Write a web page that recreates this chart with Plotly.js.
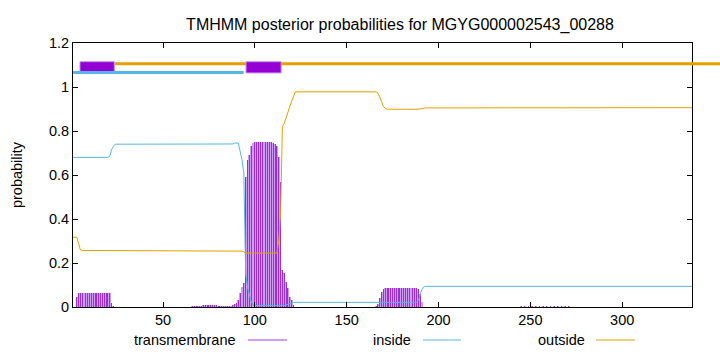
<!DOCTYPE html>
<html>
<head>
<meta charset="utf-8">
<script src="https://cdn.plot.ly/plotly-3.0.1.min.js"></script>
<style>html,body{margin:0;padding:0;background:#fff}#chart{width:720px;height:352px}</style>
</head>
<body>
<div id="chart"></div>
<script>
// ---- data ----
const seqLength = 338;

// transmembrane posterior (per residue, non-zero only)
const tmResidues = [3,4,5,6,7,8,9,10,11,12,13,14,15,16,17,18,19,20,21,22,23,
  66,67,68,69,70,71,72,73,74,75,76,77,78,79,80,81,82,83,84,85,86,87,88,89,90,
  91,92,93,94,95,96,97,98,99,100,101,102,103,104,105,106,107,108,109,110,111,112,113,114,115,116,117,118,119,120,121,
  166,167,168,169,170,171,172,173,174,175,176,177,178,179,180,181,182,183,184,185,186,187,188,189,190,191,
  245,247,249,251,253,255,257,259,261,263,265,267,269,271];
const tmProb = [0.045,0.062,0.064,0.064,0.064,0.064,0.064,0.064,0.064,0.064,0.064,0.064,0.064,0.064,0.064,0.064,0.064,0.064,0.064,0.02,0.006,
  0.003,0.004,0.004,0.005,0.006,0.006,0.007,0.007,0.007,0.007,0.007,0.007,0.007,0.007,0.006,0.006,0.006,0.005,0.005,0.005,0.005,0.006,0.008,0.012,0.02,
  0.03,0.062,0.092,0.11,0.59,0.668,0.69,0.73,0.745,0.748,0.748,0.748,0.748,0.748,0.748,0.748,0.748,0.748,0.748,0.745,0.742,0.73,0.683,0.57,0.168,0.154,0.115,0.086,0.047,0.03,0.01,
  0.005,0.015,0.04,0.07,0.082,0.085,0.085,0.085,0.085,0.085,0.085,0.085,0.085,0.085,0.085,0.085,0.085,0.085,0.085,0.085,0.085,0.085,0.085,0.08,0.06,0.025,
  0.003,0.004,0.004,0.004,0.004,0.004,0.004,0.004,0.004,0.004,0.004,0.004,0.004,0.003];

// inside posterior (breakpoints)
const insideX = [1,20,21,22,23,24,88,89,91,92,93,94,95,96,97,98,99,100,116,117,118,119,120,121,187,188,189,190,191,192,193,338];
const insideY = [0.68,0.68,0.685,0.715,0.73,0.74,0.741,0.745,0.745,0.71,0.67,0.61,0.15,0.09,0.06,0.025,0.01,0.007,0.007,0.01,0.014,0.018,0.02,0.021,0.021,0.022,0.03,0.055,0.08,0.092,0.094,0.094];

// outside posterior (breakpoints)
const outsideX = [1,3,4,5,6,70,72,93,94,95,112,113,114,115,116,117,118,119,120,121,122,166,167,168,169,170,171,172,189,190,191,192,193,338];
const outsideY = [0.317,0.317,0.29,0.26,0.257,0.257,0.254,0.254,0.25,0.245,0.245,0.3,0.42,0.82,0.835,0.86,0.895,0.918,0.935,0.955,0.978,0.978,0.972,0.955,0.93,0.912,0.903,0.899,0.899,0.9,0.902,0.904,0.905,0.906];

// predicted topology segments (residue ranges)
const topoOutside = [[23.9, 338]];
const topoTM = [[4.8, 23.5], [95.2, 114.3]];
const topoInside = [[1, 93.9]];

const xTicks = [50,100,150,200,250,300];
const yTicks = [0,0.2,0.4,0.6,0.8,1,1.2];
const legendNames = ["transmembrane","inside","outside"];

// ---- styles ----
const cTM = '#9400d3', cIn = '#56b4e9', cOut = '#e69f00';
const font = 'Liberation Sans, Arial, Helvetica, sans-serif';

const traces = [
  // light halo + darker core to mimic gnuplot's antialiased impulses
  {type:'bar', x:tmResidues, y:tmProb, width:1.0, marker:{color:'#cf9df0', line:{width:0}}, showlegend:false, hoverinfo:'skip'},
  {type:'bar', x:tmResidues, y:tmProb, width:0.5, marker:{color:'#9a2fd6', line:{width:0}}, showlegend:false, hoverinfo:'skip'},
  {type:'scatter', mode:'lines', x:insideX, y:insideY, line:{color:cIn, width:1}, showlegend:false},
  {type:'scatter', mode:'lines', x:outsideX, y:outsideY, line:{color:cOut, width:1}, showlegend:false}
];

const shapes = [];
topoOutside.forEach(s => {
  shapes.push({type:'line', xref:'x', yref:'y', x0:s[0], x1:s[1], y0:1.1055, y1:1.1055, line:{color:cOut, width:3}});
});
// the band runs past the frame to the image edge, as in the reference
shapes.push({type:'line', xref:'paper', yref:'y', x0:1, x1:1.05, y0:1.1055, y1:1.1055, line:{color:cOut, width:3}});
topoTM.forEach(s => {
  shapes.push({type:'rect', xref:'x', yref:'y', x0:s[0], x1:s[1], y0:1.064, y1:1.115, fillcolor:cTM, line:{color:'#c890f0', width:1}});
});
topoInside.forEach(s => {
  shapes.push({type:'line', xref:'x', yref:'y', x0:s[0], x1:s[1], y0:1.066, y1:1.066, line:{color:cIn, width:3}});
});

// legend in gnuplot style: text then line sample
const legendCols = ['#a040d8', cIn, cOut];
const legTextRight = [0.2666, 0.5493, 0.8304];
const legLine = [[0.2827,0.3457],[0.5654,0.6268],[0.8449,0.9079]];
const legY = -0.125;
const annotations = [];
legendNames.forEach((n,i) => {
  annotations.push({xref:'paper', yref:'paper', x:legTextRight[i], y:legY, xanchor:'right', yanchor:'middle', text:n, showarrow:false, font:{family:font, size:14.5, color:'#000'}});
  shapes.push({type:'line', xref:'paper', yref:'paper', x0:legLine[i][0], x1:legLine[i][1], y0:legY, y1:legY, line:{color:legendCols[i], width:1}});
});

const layout = {
  width:720, height:352,
  margin:{l:73, r:28, t:43, b:45, pad:0},
  paper_bgcolor:'#fff', plot_bgcolor:'#fff',
  font:{family:font, size:14.5, color:'#000'},
  title:{text:'TMHMM posterior probabilities for MGYG000002543_00288', font:{family:font, size:16, color:'#000'},
         x:400/720, xref:'container', xanchor:'center', y:1-24/352, yref:'container', yanchor:'middle'},
  showlegend:false,
  barmode:'overlay',
  bargap:0,
  xaxis:{range:[1,seqLength], autorange:false, tickmode:'array', tickvals:xTicks, ticktext:xTicks.map(String),
         ticks:'inside', ticklen:5, tickcolor:'#000', showline:true, linecolor:'#000', linewidth:1, mirror:'allticks',
         showgrid:false, zeroline:false, tickfont:{size:14.5}},
  yaxis:{range:[0,1.2], autorange:false, tickmode:'array', tickvals:yTicks, ticktext:yTicks.map(String),
         ticks:'inside', ticklen:5, tickcolor:'#000', showline:true, linecolor:'#000', linewidth:1, mirror:'allticks',
         showgrid:false, zeroline:false, tickfont:{size:14.5},
         title:{text:'probability', font:{size:14.5}, standoff:22}},
  shapes:shapes,
  annotations:annotations
};

Plotly.newPlot('chart', traces, layout, {staticPlot:true, displayModeBar:false});
</script>
</body>
</html>
